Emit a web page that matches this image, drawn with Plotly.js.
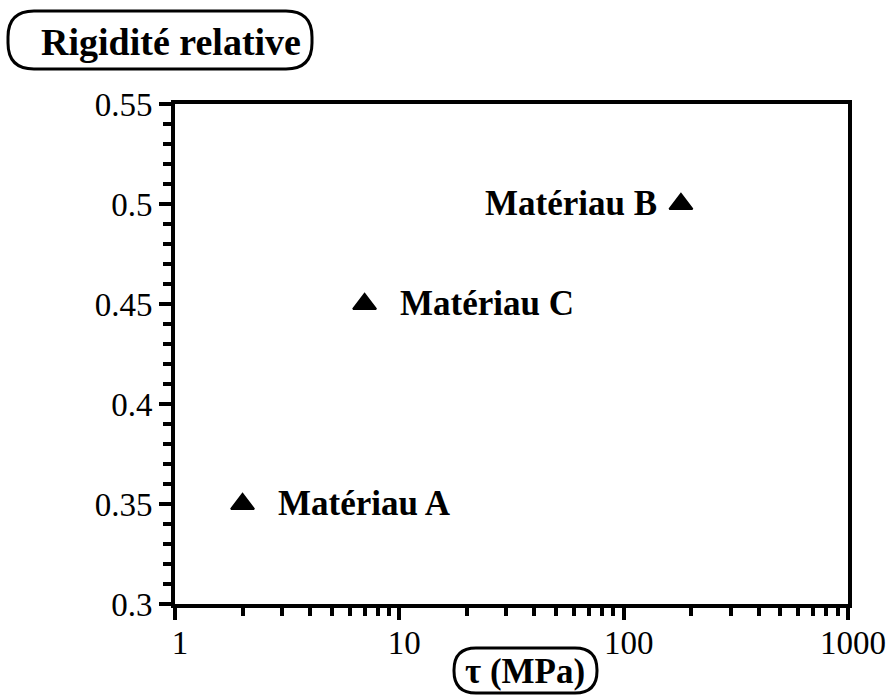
<!DOCTYPE html>
<html>
<head>
<meta charset="utf-8">
<script src="https://cdn.plot.ly/plotly-3.0.1.min.js"></script>
<style>html,body{margin:0;padding:0;background:#fff;}#chart{width:892px;height:699px;}</style>
</head>
<body>
<div id="chart"></div>
<script>
// Data
var materials = ["Matériau A", "Matériau C", "Matériau B"];
var tau = [2, 7, 180];
var rigidity = [0.35, 0.45, 0.5];
var labelSide = ["right", "right", "left"];
var xTickVals = [1, 10, 100, 1000];
var xTickText = ["1", "10", "100", "1000"];
var xMinorVals = [2,3,4,5,6,7,8,9,20,30,40,50,60,70,80,90,200,300,400,500,600,700,800,900];
var yTickVals = [0.3, 0.35, 0.4, 0.45, 0.5, 0.55];
var yTickText = ["0.3", "0.35", "0.4", "0.45", "0.5", "0.55"];
var titleText = "Rigidité relative";
var xTitleText = "τ (MPa)";

// Layout geometry (pixels)
var W = 892, H = 699;
var M = {l: 175, r: 44, t: 104, b: 95};
var pw = W - M.l - M.r, ph = H - M.t - M.b;
function px(x) { return (x - M.l) / pw; }
function py(y) { return (H - M.b - y) / ph; }
function roundBox(x0, y0, x1, y1, r) {
  function p(x, y) { return px(x).toFixed(5) + "," + py(y).toFixed(5); }
  return "M" + p(x0 + r, y0) + " L" + p(x1 - r, y0) + " Q" + p(x1, y0) + " " + p(x1, y0 + r) +
    " L" + p(x1, y1 - r) + " Q" + p(x1, y1) + " " + p(x1 - r, y1) +
    " L" + p(x0 + r, y1) + " Q" + p(x0, y1) + " " + p(x0, y1 - r) +
    " L" + p(x0, y0 + r) + " Q" + p(x0, y0) + " " + p(x0 + r, y0) + " Z";
}

var serif = "Liberation Serif";
var trace = {
  x: tau, y: rigidity, type: "scatter", mode: "markers",
  marker: {symbol: "triangle-up", size: 20, color: "#000", line: {color: "#000", width: 2}},
  hoverinfo: "skip", showlegend: false, cliponaxis: false
};

var annotations = materials.map(function (m, i) {
  var right = labelSide[i] === "right";
  return {
    x: Math.log10(tau[i]), y: rigidity[i], xref: "x", yref: "y",
    text: "<b>" + m + "</b>", showarrow: false,
    xanchor: right ? "left" : "right", yanchor: "middle",
    xshift: right ? 33 : -22, yshift: 1,
    font: {family: serif, size: 35, color: "#000"}
  };
});
annotations.push({
  x: px(525), y: py(671), xref: "paper", yref: "paper",
  text: "<b>" + xTitleText + "</b>", showarrow: false,
  xanchor: "center", yanchor: "middle",
  font: {family: serif, size: 35, color: "#000"}
});

var layout = {
  width: W, height: H,
  margin: M,
  paper_bgcolor: "#fff", plot_bgcolor: "#fff",
  title: {
    text: "<b>" + titleText + "</b>", xref: "container", yref: "container",
    x: 171 / W, y: 1 - 42 / H, xanchor: "center", yanchor: "middle",
    font: {family: serif, size: 38, color: "#000"}
  },
  xaxis: {
    type: "log", range: [0, 3],
    tickmode: "array", tickvals: xTickVals, ticktext: xTickText,
    ticks: "outside", ticklen: 12, tickwidth: 4, tickcolor: "#000",
    minor: {tickmode: "array", tickvals: xMinorVals, ticks: "outside", ticklen: 8, tickwidth: 4, tickcolor: "#000", showgrid: false},
    showline: true, linewidth: 4, linecolor: "#000", mirror: true,
    showgrid: false, zeroline: false,
    ticklabelshift: 5, ticklabelstandoff: -6,
    tickfont: {family: serif, size: 33, color: "#000"}
  },
  yaxis: {
    range: [0.3, 0.55],
    tickmode: "array", tickvals: yTickVals, ticktext: yTickText,
    ticks: "outside", ticklen: 12, tickwidth: 4, tickcolor: "#000",
    minor: {dtick: 0.01, ticks: "outside", ticklen: 8, tickwidth: 4, tickcolor: "#000", showgrid: false},
    showline: true, linewidth: 4, linecolor: "#000", mirror: true,
    showgrid: false, zeroline: false,
    ticklabelstandoff: 0,
    tickfont: {family: serif, size: 33, color: "#000"}
  },
  annotations: annotations,
  shapes: [
    {type: "path", xref: "paper", yref: "paper", path: roundBox(8, 11, 312, 69, 26), line: {color: "#000", width: 3}},
    {type: "path", xref: "paper", yref: "paper", path: roundBox(454, 648, 597, 693, 22), line: {color: "#000", width: 3}}
  ]
};

Plotly.newPlot("chart", [trace], layout, {displayModeBar: false, staticPlot: true});
</script>
</body>
</html>
